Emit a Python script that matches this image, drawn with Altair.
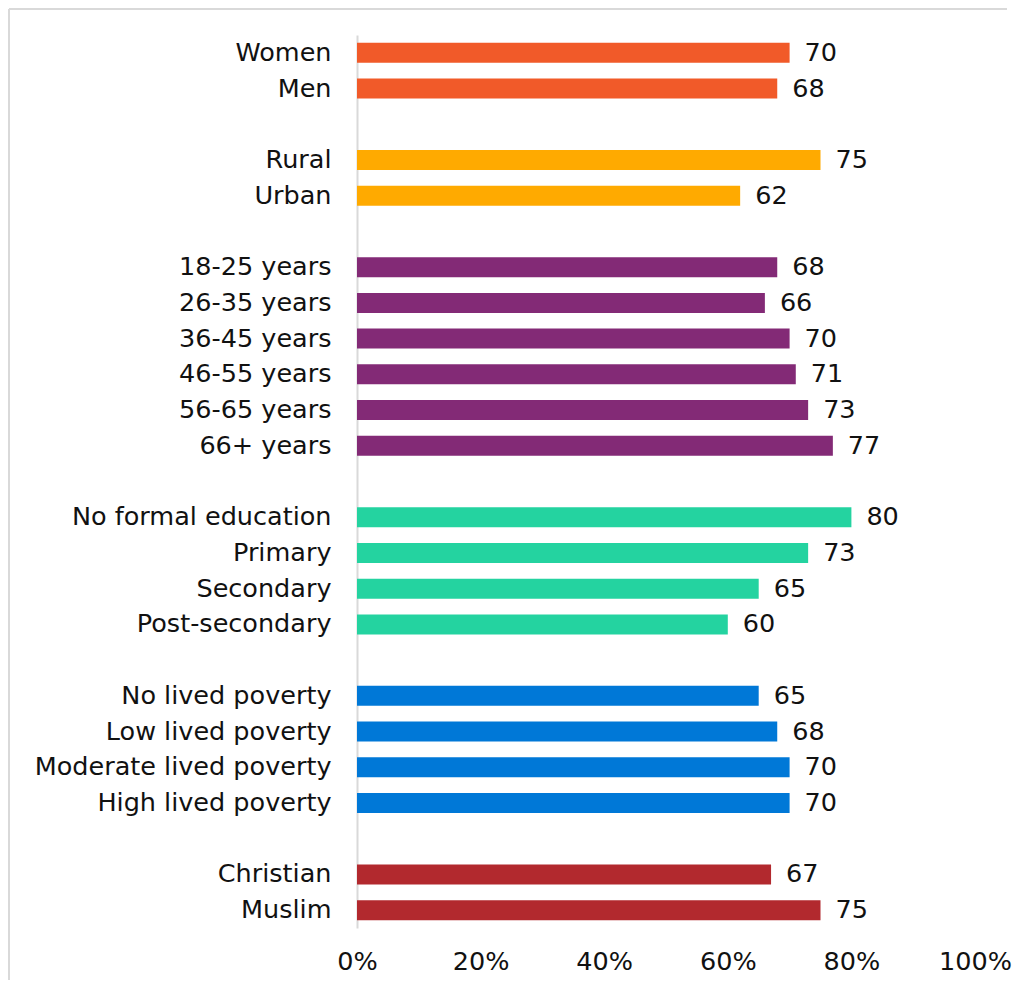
import altair as alt
import pandas as pd

categories = ["Women", "Men", "Rural", "Urban",
              "18-25 years", "26-35 years", "36-45 years", "46-55 years", "56-65 years", "66+ years",
              "No formal education", "Primary", "Secondary", "Post-secondary",
              "No lived poverty", "Low lived poverty", "Moderate lived poverty", "High lived poverty",
              "Christian", "Muslim"]
values = [70, 68, 75, 62, 68, 66, 70, 71, 73, 77, 80, 73, 65, 60, 65, 68, 70, 70, 67, 75]
groups = (["Gender"] * 2 + ["Location"] * 2 + ["Age"] * 6 + ["Education"] * 4
          + ["Poverty"] * 4 + ["Religion"] * 2)
group_names = ["Gender", "Location", "Age", "Education", "Poverty", "Religion"]
group_colors = ["#F15A29", "#FFAA00", "#832A76", "#24D3A0", "#0078D7", "#B2292E"]
x_ticks = [0, 20, 40, 60, 80, 100]

# y domain with empty slots between groups
domain = []
prev = None
gap = 0
for c, g in zip(categories, groups):
    if prev is not None and g != prev:
        gap += 1
        domain.append(f"gap{gap}")
    domain.append(c)
    prev = g

df = pd.DataFrame({"category": categories, "value": values, "group": groups})

FONT = "DejaVu Sans"
FS = 25.5
W, H = 618, 893

y_enc = alt.Y("category:N", sort=domain,
              scale=alt.Scale(domain=domain, paddingInner=0.44, paddingOuter=0.22),
              axis=alt.Axis(title=None, ticks=False, domain=True, domainColor="#d9d9d9",
                            domainWidth=2, labelFontSize=FS, labelFont=FONT, labelColor="#111111",
                            labelPadding=26, labelLimit=0, minExtent=347, maxExtent=347,
                            labelExpr="indexof(datum.label, 'gap') == 0 ? '' : datum.label"))
x_enc = alt.X("value:Q", scale=alt.Scale(domain=[0, 100], nice=False),
              axis=alt.Axis(title=None, values=x_ticks, grid=False, ticks=False, domain=False,
                            labelFontSize=FS, labelFont=FONT, labelColor="#111111",
                            labelFlush=False, labelPadding=21, labelExpr="datum.value + '%'"))
color_enc = alt.Color("group:N", scale=alt.Scale(domain=group_names, range=group_colors), legend=None)

bars = alt.Chart(df).mark_bar().encode(y=y_enc, x=x_enc, color=color_enc)
text = alt.Chart(df).mark_text(align="left", baseline="middle", dx=15, fontSize=FS,
                               font=FONT, color="#111111").encode(
    y=alt.Y("category:N", sort=domain), x="value:Q", text="value:Q")

frame_top = alt.Chart(df).mark_rule(color="#d9d9d9", strokeWidth=2).encode(
    x=alt.value(-348), x2=alt.value(650), y=alt.value(-26))
frame_left = alt.Chart(df).mark_rule(color="#d9d9d9", strokeWidth=2).encode(
    x=alt.value(-348), y=alt.value(-26), y2=alt.value(945))

chart = alt.layer(frame_top, frame_left, bars, text).properties(
    width=W, height=H, padding=0
).configure_view(stroke=None)

chart.save("out.html", embed_options={"renderer": "svg", "actions": False})
